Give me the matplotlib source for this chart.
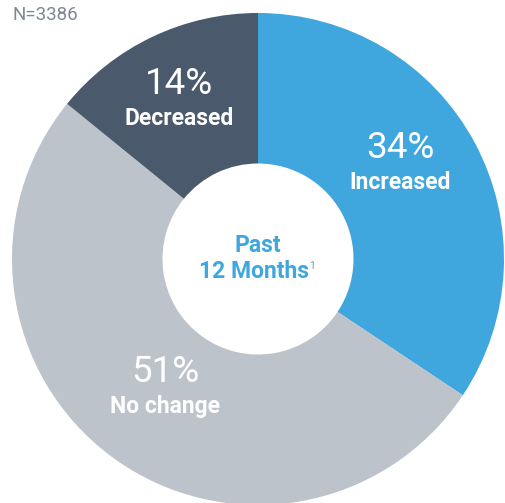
import matplotlib
matplotlib.use('Agg')
import matplotlib.pyplot as plt

# data
labels  = ['Increased', 'No change', 'Decreased']
shares  = [34, 51, 14]
N_TOTAL = 3386
CENTER_TXT = ['Past', '12 Months']

C_INC  = '#3fa7de'
C_NOCH = '#bdc3cb'
C_DEC  = '#4a596b'
COLORS = [C_INC, C_NOCH, C_DEC]

W, H = 505, 503
fig = plt.figure(figsize=(W/100, H/100), dpi=100)
ax = fig.add_axes([0, 0, 1, 1])

cx, cy, R, r_in = 258, H - 259, 246, 95.5
ax.pie(shares, colors=COLORS, startangle=90, counterclock=False,
       center=(cx, cy), radius=R, frame=True,
       wedgeprops=dict(width=R - r_in, edgecolor='none'))
ax.set_xlim(0, W); ax.set_ylim(0, H)
ax.set_aspect('equal')
ax.axis('off')

PCT_FONT = dict(family='Roboto', weight='normal', size=26.5, color='white')
LBL_FONT = dict(family='Roboto', weight='bold', size=16.5, color='white')

# label anchors (pixel x, baseline of pct, baseline of label)
pos = {'Increased': (400, 158, 189),
       'No change': (165, 382, 413),
       'Decreased': (179, 94, 125)}
for lbl, v in zip(labels, shares):
    x, yp, yl = pos[lbl]
    ax.text(x, H - yp, f'{v}%', ha='center', va='baseline', **PCT_FONT)
    ax.text(x, H - yl, lbl, ha='center', va='baseline', **LBL_FONT)

ctr = dict(family='Roboto', weight='bold', size=16.5, color=C_INC)
ax.text(258, H - 252, CENTER_TXT[0], ha='center', va='baseline', **ctr)
ax.text(254, H - 278, CENTER_TXT[1], ha='center', va='baseline', **ctr)
ax.text(309, H - 269, '1', ha='left', va='baseline', family='Roboto',
        size=7.5, color=C_INC)

ax.text(12, H - 20, f'N={N_TOTAL}', ha='left', va='baseline',
        family='Roboto', weight='normal', size=13.5, color='#7d8896')

fig.savefig('out.png', dpi=100)
